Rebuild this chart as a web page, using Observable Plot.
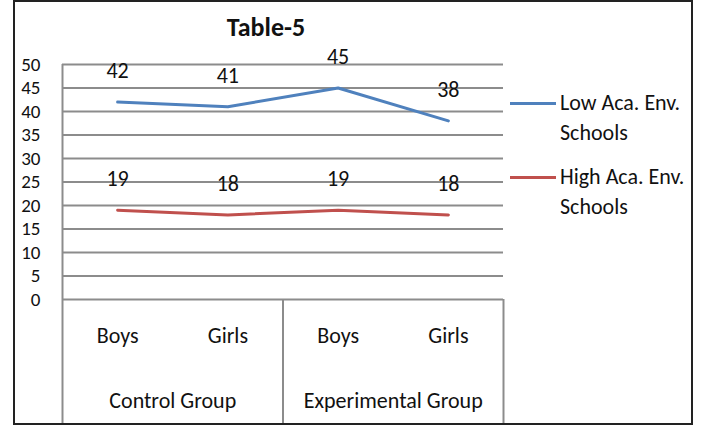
<!DOCTYPE html>
<html>
<head>
<meta charset="utf-8">
<script src="https://cdn.jsdelivr.net/npm/d3@7"></script>
<script src="https://cdn.jsdelivr.net/npm/@observablehq/plot@0.6"></script>
<style>
  html, body { margin: 0; padding: 0; background: #fff; }
  #wrap { position: relative; width: 701px; height: 425px; overflow: hidden; font-family: Carlito, Calibri, Lato, sans-serif; color: #111; }
  #wrap svg { position: absolute; left: 0; top: 0; }
  #border { position: absolute; left: 13px; top: 0px; width: 676px; height: 421px; border: 2px solid #222; pointer-events: none; }
  #title { position: absolute; left: 0; width: 532px; top: 11px; line-height: 32px; text-align: center; font-weight: bold; font-size: 26px; }
  .legend-item { position: absolute; left: 510px; font-size: 22px; line-height: 30px; }
  .legend-item .swatch { position: absolute; left: 0; top: 13.5px; width: 46px; height: 3px; }
  .legend-item .label { position: absolute; left: 50px; top: 0; white-space: nowrap; }
</style>
</head>
<body>
<div id="wrap">
  <div id="title"></div>
</div>
<script>
const title = "Table-5";
const categories = ["Boys", "Girls", "Boys", "Girls"];
const groups = ["Control Group", "Experimental Group"];
const groupSizes = [2, 2];
const series = ["Low Aca. Env. Schools", "High Aca. Env. Schools"];
const legendLines = [["Low Aca. Env.", "Schools"], ["High Aca. Env.", "Schools"]];
const lowValues = [42, 41, 45, 38];
const highValues = [19, 18, 19, 18];
const yTicks = [0, 5, 10, 15, 20, 25, 30, 35, 40, 45, 50];
const colors = ["#4F81BD", "#C0504D"];

const fontFamily = "Carlito, Calibri, Lato, sans-serif";
const seriesValues = [lowValues, highValues];

const data = [];
seriesValues.forEach((vals, s) => {
  vals.forEach((v, i) => data.push({series: series[s], pos: i + 0.5, value: v}));
});
const catData = categories.map((c, i) => ({cat: c, pos: i + 0.5}));
const boundaries = [0];
groupSizes.forEach(n => boundaries.push(boundaries[boundaries.length - 1] + n));
const groupData = groups.map((g, i) => ({name: g, center: (boundaries[i] + boundaries[i + 1]) / 2}));

const chart = Plot.plot({
  width: 701,
  height: 425,
  marginLeft: 62,
  marginRight: 198,
  marginTop: 64,
  marginBottom: 126,
  x: {domain: [0, categories.length], axis: null},
  y: {domain: [0, 50], axis: null},
  color: {domain: series, range: colors},
  style: {fontFamily, fontSize: "22px", color: "#111", background: "transparent"},
  marks: [
    Plot.ruleY(yTicks, {stroke: "#8c8c8c", strokeWidth: 2}),
    Plot.ruleX([0], {stroke: "#8c8c8c", strokeWidth: 2}),
    Plot.axisX(boundaries, {tickSize: 124, tickFormat: () => "", stroke: "#8c8c8c", strokeWidth: 2, strokeOpacity: 1, label: null}),
    Plot.axisY(yTicks, {tickSize: 0, tickPadding: 22, fontSize: 19, label: null}),
    Plot.line(data, {x: "pos", y: "value", z: "series", stroke: "series", strokeWidth: 3}),
    Plot.text(data, {x: "pos", y: "value", text: "value", dy: -31, fontSize: 22}),
    Plot.text(catData, {x: "pos", frameAnchor: "bottom", lineAnchor: "middle", dy: 36, text: "cat", fontSize: 22}),
    Plot.text(groupData, {x: "center", frameAnchor: "bottom", lineAnchor: "middle", dy: 101, text: "name", fontSize: 22})
  ]
});

const wrap = document.getElementById("wrap");
wrap.insertBefore(chart, wrap.firstChild);
document.getElementById("title").textContent = title;

const legendCenters = [103, 177];
series.forEach((s, i) => {
  const item = document.createElement("div");
  item.className = "legend-item";
  item.style.top = (legendCenters[i] - 15) + "px";
  const sw = document.createElement("div");
  sw.className = "swatch";
  sw.style.background = colors[i];
  const lab = document.createElement("div");
  lab.className = "label";
  lab.innerHTML = legendLines[i].join("<br>");
  item.appendChild(sw);
  item.appendChild(lab);
  wrap.appendChild(item);
});

const border = document.createElement("div");
border.id = "border";
wrap.appendChild(border);
</script>
</body>
</html>
